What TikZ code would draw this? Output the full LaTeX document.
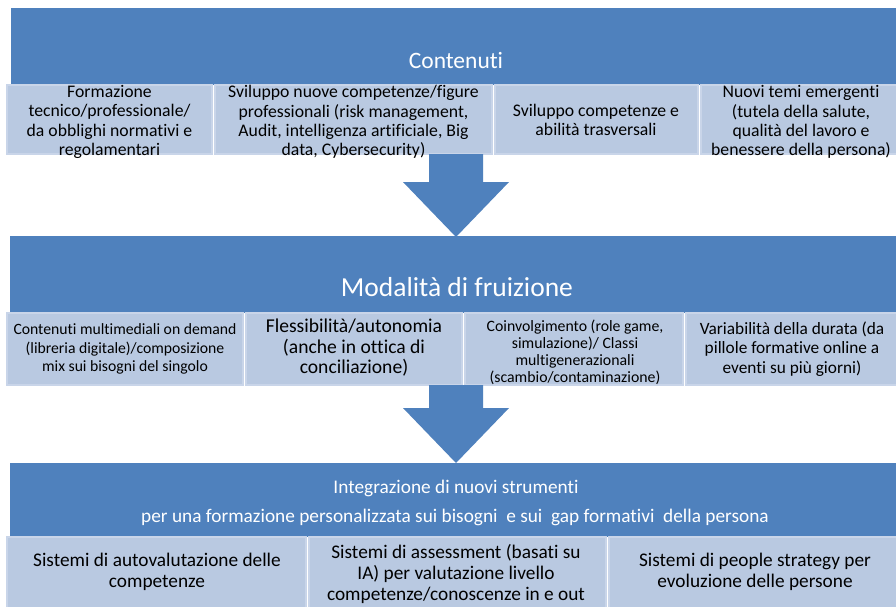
\documentclass[tikz,border=0pt]{standalone}
\usepackage{fontspec}
\setmainfont{Carlito}[Ligatures={NoCommon}]
\definecolor{bandblue}{HTML}{4F81BD}
\definecolor{boxfill}{HTML}{B9C9E1}
\definecolor{boxedge}{HTML}{C9D5E9}
\begin{document}
\begin{tikzpicture}[x=1pt,y=-1pt,
  band/.style={fill=bandblue,draw=none},
  cell/.style={fill=boxfill,draw=boxedge,line width=1.5pt},
  celltext/.style={align=center,text=black,inner sep=0pt},
  bandtext/.style={text=white,inner sep=0pt,anchor=base},
  blockarrow/.style={fill=bandblue,draw=none}]
\useasboundingbox (0,0) rectangle (896,606);
\fill[white] (0,0) rectangle (896,606);
\begin{scope}
\clip (0,0) rectangle (896,606);
% bands
\path[band] (11,8) rectangle (896,85);
\path[band] (10,236) rectangle (896,313);
\path[band] (10,463) rectangle (896,537);
% row 1 boxes
\draw[cell] (7,85) rectangle (212,154);
\draw[cell] (215,85) rectangle (492,154);
\draw[cell] (495,85) rectangle (698,154);
\draw[cell] (701,85) rectangle (899,154);
% row 2 boxes
\draw[cell] (7,313) rectangle (243,385);
\draw[cell] (246,313) rectangle (462,385);
\draw[cell] (465,313) rectangle (683,385);
\draw[cell] (686,313) rectangle (899,385);
% row 3 boxes
\draw[cell] (7,537) rectangle (306,609);
\draw[cell] (309,537) rectangle (606,609);
\draw[cell] (609,537) rectangle (899,609);
% arrows
\path[blockarrow] (429,154) -- (483,154) -- (483,182) -- (509,182) -- (456,237) -- (403,182) -- (429,182) -- cycle;
\path[blockarrow] (429,385) -- (483,385) -- (483,408) -- (509,408) -- (456,463) -- (403,408) -- (429,408) -- cycle;
\end{scope}
% band titles
\node[bandtext,font=\fontsize{23.5}{26}\selectfont] (t1) at (456,68) {Contenuti};
\node[bandtext,font=\fontsize{27.5}{30}\selectfont] (t2) at (457,296) {Modalità di fruizione};
\node[bandtext,font=\fontsize{19.3}{22}\selectfont] (t3a) at (456,493) {Integrazione di nuovi strumenti};
\node[bandtext,font=\fontsize{19.3}{22}\selectfont] (t3b) at (455,522) {per una formazione personalizzata sui bisogni\ \ e sui\ \ gap formativi\ \ della persona};
% row 1 texts
\node[celltext,font=\fontsize{17.7}{19.3}\selectfont] (c11) at (109.5,122) {Formazione\\tecnico/professionale/\\da obblighi normativi e\\regolamentari};
\node[celltext,font=\fontsize{17.7}{19.3}\selectfont] (c12) at (353.5,122) {Sviluppo nuove competenze/figure\\professionali (risk management,\\Audit, intelligenza artificiale, Big\\data, Cybersecurity)};
\node[celltext,font=\fontsize{17.7}{19.3}\selectfont] (c13) at (596,120) {Sviluppo competenze e\\abilità trasversali};
\node[celltext,font=\fontsize{17.7}{19.3}\selectfont] (c14) at (801,122) {Nuovi temi emergenti\\(tutela della salute,\\qualità del lavoro e\\benessere della persona)};
% row 2 texts
\node[celltext,font=\fontsize{15.7}{18.5}\selectfont] (c21) at (125,349) {Contenuti multimediali on demand\\(libreria digitale)/composizione\\mix sui bisogni del singolo};
\node[celltext,font=\fontsize{19.6}{20.5}\selectfont] (c22) at (354,348) {Flessibilità/autonomia\\(anche in ottica di\\conciliazione)};
\node[celltext,font=\fontsize{15.8}{17}\selectfont] (c23) at (575,352) {Coinvolgimento (role game,\\simulazione)/ Classi\\multigenerazionali\\(scambio/contaminazione)};
\node[celltext,font=\fontsize{17.3}{19.5}\selectfont] (c24) at (792,349) {Variabilità della durata (da\\pillole formative online a\\eventi su più giorni)};
% row 3 texts
\node[celltext,font=\fontsize{19.3}{20.7}\selectfont] (c31) at (157,572) {Sistemi di autovalutazione delle\\competenze};
\node[celltext,font=\fontsize{19.3}{20.7}\selectfont] (c32) at (456,574) {Sistemi di assessment (basati su\\IA) per valutazione livello\\competenze/conoscenze in e out};
\node[celltext,font=\fontsize{19.3}{20.7}\selectfont] (c33) at (755,572) {Sistemi di people strategy per\\evoluzione delle persone};
\end{tikzpicture}
\end{document}
